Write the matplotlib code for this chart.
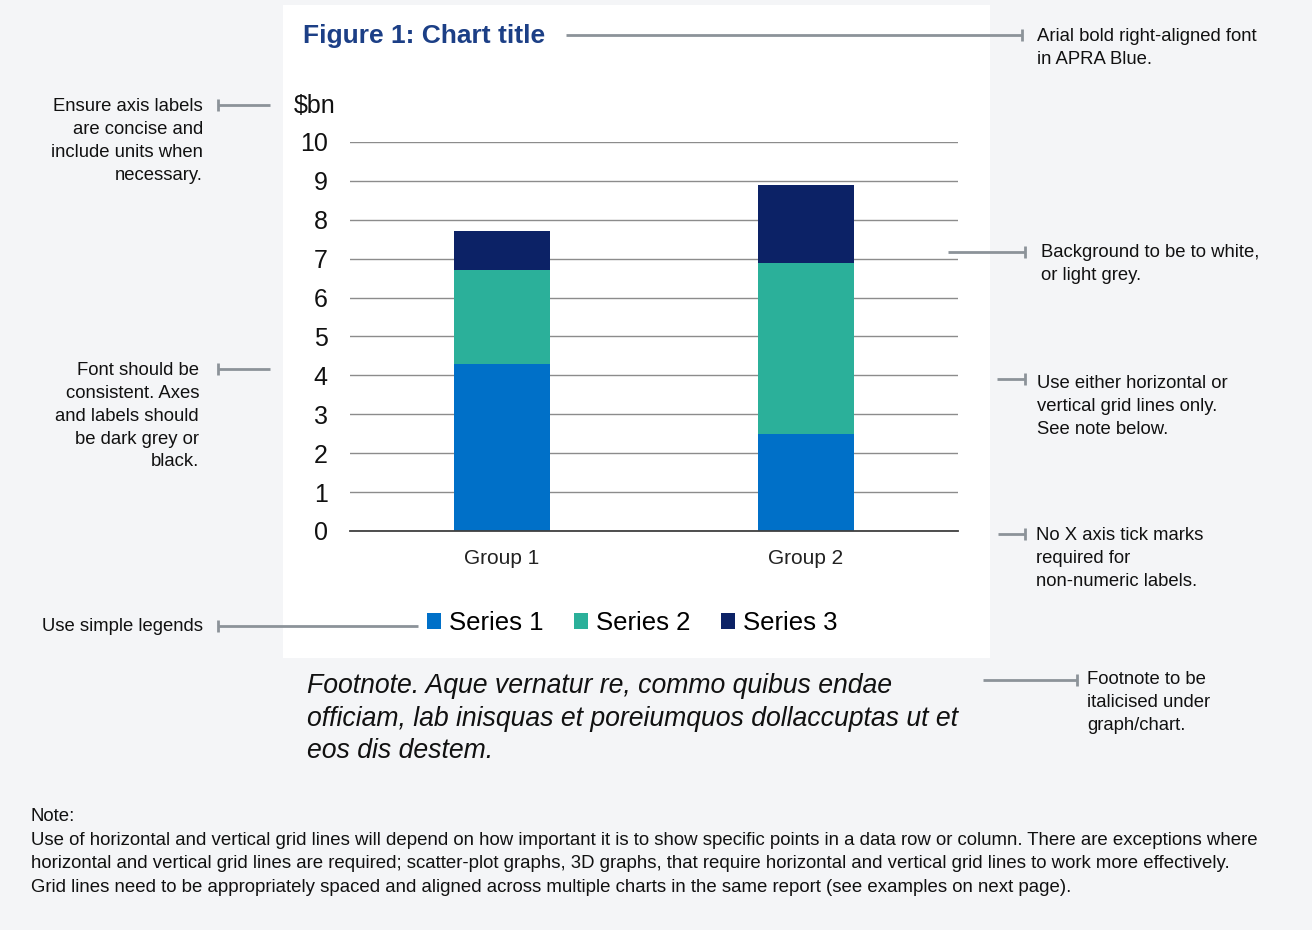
import numpy as np
import matplotlib.pyplot as plt
from matplotlib.patches import Rectangle

plt.rcParams['font.family'] = ['Liberation Sans', 'DejaVu Sans']

groups = ["Group 1", "Group 2"]
series_names = ["Series 1", "Series 2", "Series 3"]
series1 = [4.3, 2.5]
series2 = [2.4, 4.4]
series3 = [1.0, 2.0]
colors = ["#0070c8", "#2bb09a", "#0c2266"]
yticks = [0, 1, 2, 3, 4, 5, 6, 7, 8, 9, 10]

W, H = 1312, 930
fig = plt.figure(figsize=(W / 100, H / 100), dpi=100)
fig.patch.set_facecolor("#f4f5f7")

# page layer in pixel coords
bg = fig.add_axes([0, 0, 1, 1], zorder=0)
bg.set_xlim(0, W)
bg.set_ylim(H, 0)
bg.axis("off")
bg.add_patch(Rectangle((283, 5), 707, 653, facecolor="white", edgecolor="none"))

ax = fig.add_axes([350 / W, 1 - 531 / H, 608 / W, 389 / H], zorder=1)
ax.patch.set_alpha(0)
x = np.arange(len(groups))
bw = 0.316
s1 = np.array(series1)
s2 = np.array(series2)
s3 = np.array(series3)
ax.bar(x, s1, bw, color=colors[0], label=series_names[0], zorder=2)
ax.bar(x, s2, bw, bottom=s1, color=colors[1], label=series_names[1], zorder=2)
ax.bar(x, s3, bw, bottom=s1 + s2, color=colors[2], label=series_names[2], zorder=2)
ax.set_xlim(-0.5, 1.5)
ax.set_ylim(0, 10)
ax.set_yticks(yticks)
ax.set_xticks(x)
ax.set_xticklabels(groups)
ax.yaxis.grid(True, color="#8c8c8c", linewidth=1)
ax.set_axisbelow(True)
for sp in ["top", "right", "left"]:
    ax.spines[sp].set_visible(False)
ax.spines["bottom"].set_color("#404040")
ax.spines["bottom"].set_linewidth(1.3)
ax.spines["bottom"].set_zorder(3)
ax.tick_params(axis="y", length=0, labelsize=18, pad=16, labelcolor="#111111")
ax.tick_params(axis="x", length=0, labelsize=15, pad=13, labelcolor="#222222")

fig.legend(loc="center", bbox_to_anchor=(632 / W, 1 - 623 / H), ncol=3, frameon=False,
           fontsize=18.5, handlelength=0.55, handleheight=0.55, handletextpad=0.3,
           columnspacing=1.2)

bg.text(303, 36, "Figure 1: Chart title", fontsize=19, fontweight="bold",
        color="#1c3f86", ha="left", va="center")
bg.text(294, 106, "$bn", fontsize=18, color="#111111", ha="left", va="center")

# connector lines
gc = "#8c9399"
def connector(x0, x1, y, tick_x):
    bg.plot([x0, x1], [y, y], color=gc, lw=2, solid_capstyle="butt")
    bg.plot([tick_x, tick_x], [y - 6, y + 6], color=gc, lw=2, solid_capstyle="butt")

connector(218, 270, 105, 218)
connector(218, 270, 369, 218)
connector(218, 418, 626, 218)
connector(566, 1022, 35, 1022)
connector(948, 1025, 252, 1025)
connector(997, 1025, 379, 1025)
connector(998, 1025, 534, 1025)
connector(983, 1077, 680, 1077)

af = 13.3
tc = "#111111"
ls = 1.45
bg.text(203, 98, "Ensure axis labels\nare concise and\ninclude units when\nnecessary.",
        fontsize=af, color=tc, ha="right", va="top", linespacing=ls)
bg.text(199, 362, "Font should be\nconsistent. Axes\nand labels should\nbe dark grey or\nblack.",
        fontsize=af, color=tc, ha="right", va="top", linespacing=ls)
bg.text(203, 626, "Use simple legends", fontsize=af, color=tc, ha="right", va="center")
bg.text(1037, 28, "Arial bold right-aligned font\nin APRA Blue.",
        fontsize=af, color=tc, ha="left", va="top", linespacing=ls)
bg.text(1041, 244, "Background to be to white,\nor light grey.",
        fontsize=af, color=tc, ha="left", va="top", linespacing=ls)
bg.text(1037, 375, "Use either horizontal or\nvertical grid lines only.\nSee note below.",
        fontsize=af, color=tc, ha="left", va="top", linespacing=ls)
bg.text(1036, 527, "No X axis tick marks\nrequired for\nnon-numeric labels.",
        fontsize=af, color=tc, ha="left", va="top", linespacing=ls)
bg.text(1087, 671, "Footnote to be\nitalicised under\ngraph/chart.",
        fontsize=af, color=tc, ha="left", va="top", linespacing=ls)

bg.text(307, 673, "Footnote. Aque vernatur re, commo quibus endae\n"
        "officiam, lab inisquas et poreiumquos dollaccuptas ut et\n"
        "eos dis destem.", fontsize=19.2, style="italic", color=tc,
        ha="left", va="top", linespacing=1.33)

bg.text(31, 808, "Note:\n"
        "Use of horizontal and vertical grid lines will depend on how important it is to show specific points in a data row or column. There are exceptions where\n"
        "horizontal and vertical grid lines are required; scatter-plot graphs, 3D graphs, that require horizontal and vertical grid lines to work more effectively.\n"
        "Grid lines need to be appropriately spaced and aligned across multiple charts in the same report (see examples on next page).",
        fontsize=13.4, color=tc, ha="left", va="top", linespacing=1.5)

fig.savefig("out.png", dpi=100, facecolor=fig.get_facecolor())
